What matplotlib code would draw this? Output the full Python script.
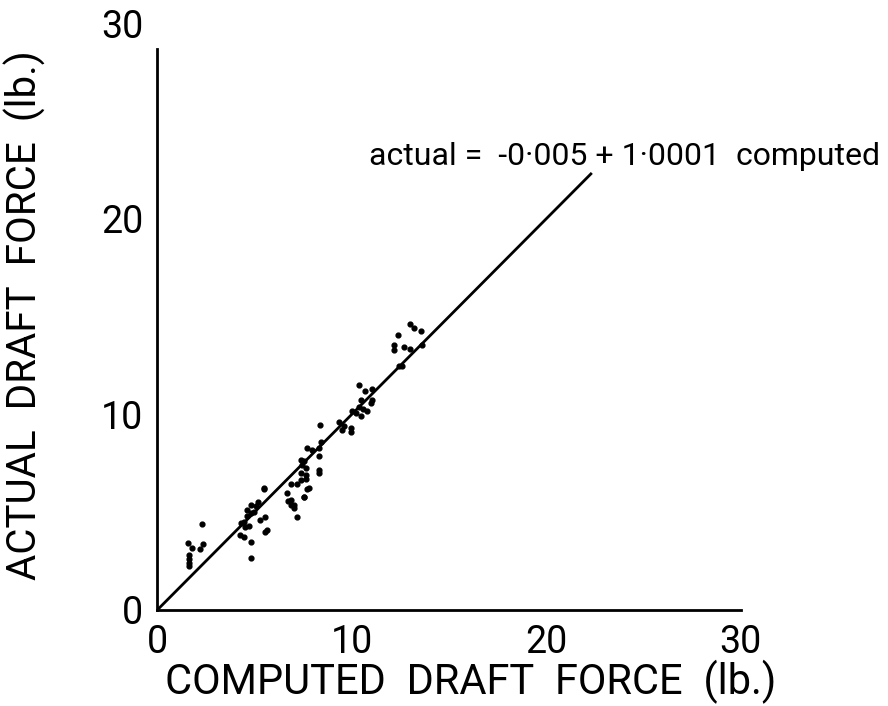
import matplotlib.pyplot as plt
import numpy as np

# observed vs computed draft force (lb.)
computed = [2.3, 1.6, 1.78, 2.18, 2.35, 1.66, 1.66, 1.66, 1.66,
            4.83, 5.5, 4.8, 4.62, 5.2, 5.3, 5.57, 5.65, 5.53, 4.83, 4.45,
            4.3, 4.28, 4.45, 4.54, 4.7, 4.62, 4.8, 5.1, 5.0, 5.48,
            6.68, 6.86, 7.03, 7.06, 7.19, 7.53, 6.9, 7.2, 7.7, 6.75, 6.9,
            7.37, 7.55, 7.45, 7.63, 7.37, 7.63, 7.37, 7.63, 7.8, 7.55,
            7.7, 7.95, 8.3, 8.3, 8.3, 8.3, 8.4, 8.37,
            9.35, 9.6, 9.5, 9.95, 9.95, 10.0, 10.2, 10.5, 10.8, 10.4, 10.6,
            10.5, 11.0, 11.05, 10.7, 10.4, 11.05,
            13.0, 13.2, 13.55, 12.4, 12.2, 12.2, 12.7, 13.0, 13.63, 12.45, 12.6]
actual = [4.4, 3.4, 3.15, 3.1, 3.38, 2.8, 2.6, 2.4, 2.25,
          2.64, 6.2, 5.37, 5.1, 5.5, 4.6, 4.78, 4.09, 4.0, 3.5, 4.5,
          4.45, 3.84, 3.75, 4.26, 4.3, 4.8, 4.95, 5.3, 5.0, 6.23,
          5.97, 5.63, 5.37, 5.2, 4.78, 5.8, 6.45, 6.45, 6.2, 5.55, 5.37,
          7.67, 7.6, 7.42, 7.25, 7.0, 6.9, 6.66, 6.68, 6.23, 5.8,
          8.27, 8.2, 8.27, 7.85, 7.16, 7.0, 8.6, 9.46,
          9.6, 9.4, 9.2, 9.1, 9.3, 10.2, 10.06, 9.9, 10.15, 10.4, 10.3,
          10.74, 10.6, 10.74, 11.2, 11.5, 11.3,
          14.6, 14.4, 14.25, 14.07, 13.55, 13.3, 13.47, 13.33, 13.55, 12.5, 12.5]

# fitted line: actual = -0.005 + 1.0001 computed
intercept = -0.005
slope = 1.0001
line_x = np.array([0, 22.3])
line_y = intercept + slope * line_x

ticks = [0, 10, 20, 30]

plt.rcParams['font.family'] = ['Roboto', 'DejaVu Sans']

fig = plt.figure(figsize=(8.88, 7.06), dpi=100)
ax = fig.add_axes([0.177, 0.136, 0.657, 0.831])

ax.scatter(computed, actual, s=12, color='black', zorder=3)
ax.plot(line_x, line_y, color='black', linewidth=2)

ax.text(10.9, 23.2, 'actual =  -0·005 + 1·0001  computed',
        fontsize=23, va='center', ha='left')

ax.set_xlim(0, 30)
ax.set_ylim(0, 30)
ax.set_xticks(ticks)
ax.set_yticks(ticks)
ax.tick_params(length=0, labelsize=27, pad=10)

for side in ['top', 'right']:
    ax.spines[side].set_visible(False)
ax.spines['left'].set_linewidth(2)
ax.spines['bottom'].set_linewidth(2)
ax.spines['left'].set_bounds(0, 28.7)

ax.set_xlabel('COMPUTED  DRAFT  FORCE  (lb.)', fontsize=30)
ax.set_ylabel('ACTUAL  DRAFT  FORCE  (lb.)', fontsize=29)
ax.xaxis.set_label_coords(0.537, -0.085)
ax.yaxis.set_label_coords(-0.19, 0.503)

plt.savefig('out.png', dpi=100)
